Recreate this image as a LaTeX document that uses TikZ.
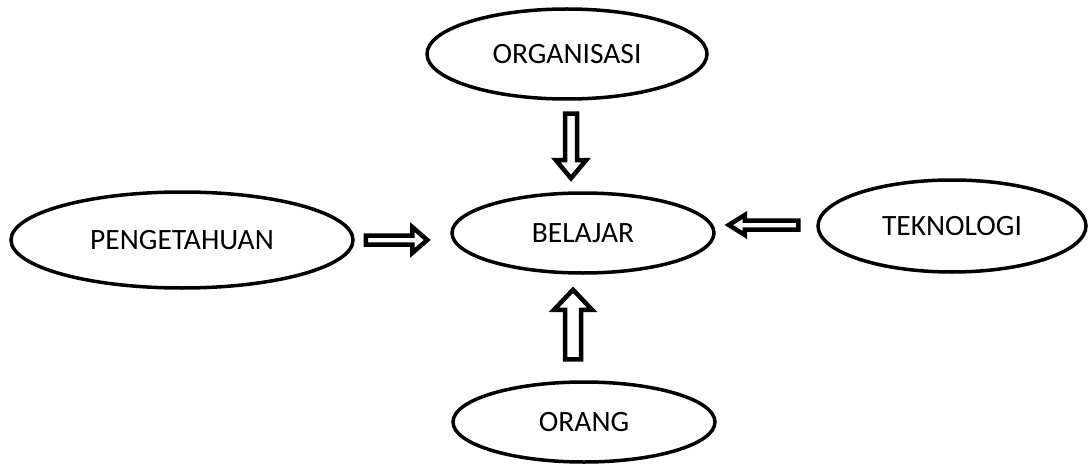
\documentclass[tikz,border=0pt]{standalone}
\usepackage{fontspec}
\setmainfont{Carlito}
\usetikzlibrary{shapes.geometric,calc}
\tikzset{
  oval/.style={ellipse, draw=black, line width=3.5pt, inner sep=0pt, font=\fontsize{29.5}{35}\selectfont},
  barrow/.style={draw=black, fill=white, line width=4.5pt, line join=miter}
}
% #1 start, #2 tip, #3 shaft half width, #4 head half width, #5 head length
\newcommand\myblockarrow[5]{%
  \draw[barrow] ($(#1)!#3pt!90:(#2)$) -- ($(#2)!#5pt!(#1)!#3pt!90:(#2)$)
    -- ($(#2)!#5pt!(#1)!#4pt!90:(#2)$) -- (#2)
    -- ($(#2)!#5pt!(#1)!#4pt!-90:(#2)$) -- ($(#2)!#5pt!(#1)!#3pt!-90:(#2)$)
    -- ($(#1)!#3pt!-90:(#2)$) -- cycle;}
\begin{document}
\begin{tikzpicture}[x=1pt,y=-1pt]
\useasboundingbox (0,0) rectangle (1091,465);
\node[oval, minimum width=280pt, minimum height=90pt] (org) at (567,54) {ORGANISASI};
\node[oval, minimum width=262pt, minimum height=80pt] (bel) at (583,233) {BELAJAR};
\node[oval, minimum width=342pt, minimum height=96pt] (pen) at (182,240) {PENGETAHUAN};
\node[oval, minimum width=268pt, minimum height=92pt] (tek) at (952,226) {TEKNOLOGI};
\node[oval, minimum width=262pt, minimum height=80pt] (ora) at (584,422) {ORANG};
% arrow end points
\coordinate (d1) at ($(org.south)+(4,13)$);
\coordinate (d2) at ($(bel.north)+(-12,-13)$);
\coordinate (u1) at ($(ora.north)+(-11,-21)$);
\coordinate (u2) at ($(bel.south)+(-10,15)$);
\coordinate (r1) at ($(pen.east)+(11,0)$);
\coordinate (r2) at ($(bel.west)+(-23,7)$);
\coordinate (l1) at ($(tek.west)+(-18,-1)$);
\coordinate (l2) at ($(bel.east)+(13,-8)$);
\myblockarrow{d1}{d2}{6}{15}{18}
\myblockarrow{u1}{u2}{8}{19}{20}
\myblockarrow{r1}{r2}{4.5}{13}{15}
\myblockarrow{l1}{l2}{4.5}{10}{16}
\end{tikzpicture}
\end{document}
